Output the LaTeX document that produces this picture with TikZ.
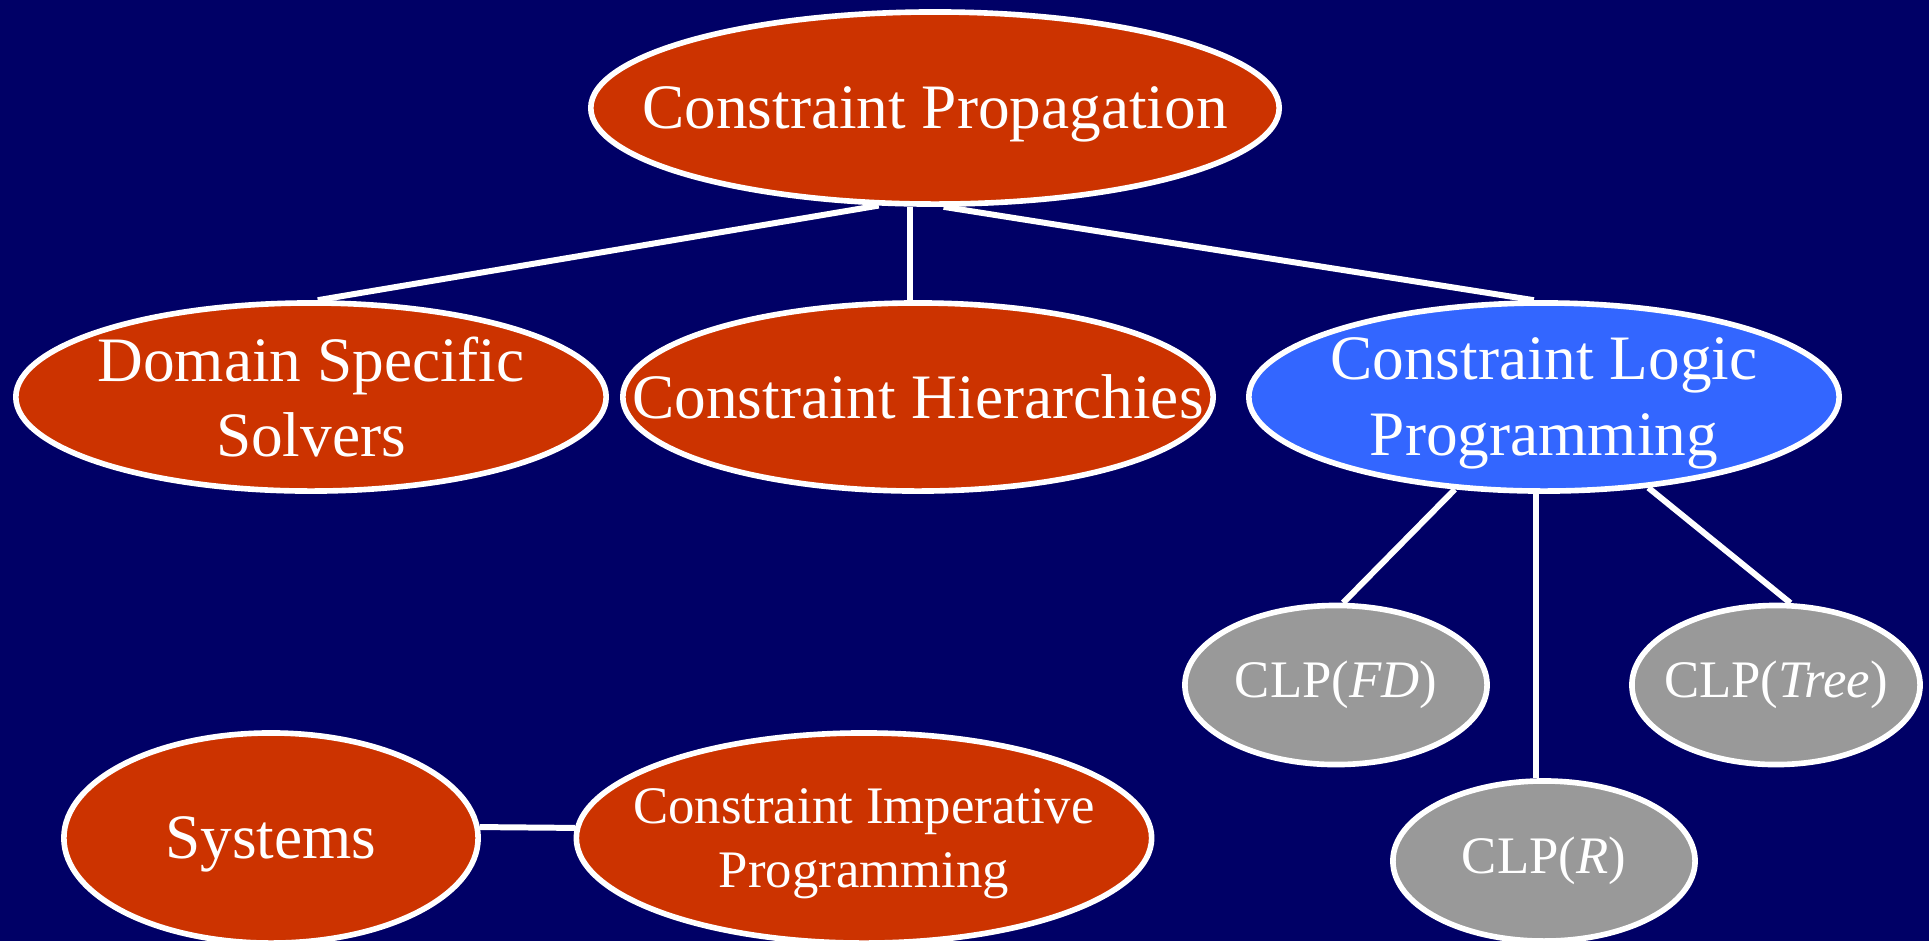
\documentclass[tikz,border=0pt]{standalone}
\usepackage{fontspec}
\setmainfont{Liberation Serif}
\usetikzlibrary{shapes.geometric}
\definecolor{SlideBg}{HTML}{000066}
\definecolor{TopicFill}{HTML}{CC3300}
\definecolor{ClpFill}{HTML}{3366FF}
\definecolor{SubFill}{HTML}{999999}

\begin{document}
\begin{tikzpicture}[x=0.01cm, y=-0.01cm,
            topic/.style={ellipse, draw=white, line width=1.6pt, fill=TopicFill, text=white,
                          inner xsep=-1.8cm, inner ysep=-0.4cm, align=center,
                          minimum width=5.9cm, minimum height=1.88cm,
                          font=\fontsize{18}{21.6}\selectfont},
            clp/.style={topic, fill=ClpFill},
            sub/.style={topic, fill=SubFill, inner xsep=-0.6cm, inner ysep=-0.2cm,
                        minimum width=3.02cm, minimum height=1.59cm,
                        font=\fontsize{15}{18}\selectfont},
            link/.style={draw=white, line width=1.7pt}]

            \path[use as bounding box, fill=SlideBg] (0,0) rectangle (1929,941);

            % raiz e primeiro nivel
            \node[topic, minimum width=6.88cm, minimum height=1.92cm, text depth=0pt] (prop) at (935,108) {Constraint Propagation};
            \node[topic] (dss)  at (311,397) {Domain Specific\\Solvers};
            \node[topic] (hier) at (918,397) {Constraint Hierarchies};
            \node[clp, text depth=0pt] (clpg) at (1544,397) {Constraint Logic\\Programming};

            % instancias de CLP
            \node[sub] (fd)   at (1336,685) {CLP(\textit{FD})};
            \node[sub, minimum width=2.88cm] (tree) at (1776,685) {CLP(\textit{Tree})};
            \node[sub, minimum height=1.6cm] (real) at (1544,861) {CLP(\textit{R})};

            % par isolado em baixo
            \node[topic, minimum width=4.14cm, minimum height=2.1cm, text depth=0pt] (sys) at (271,838) {Systems};
            \node[topic, minimum width=5.75cm, minimum height=2.1cm, text depth=0pt,
                  font=\fontsize{15}{18}\selectfont] (cip) at (864,838) {Constraint Imperative\\Programming};

            % ligacoes
            \draw[link] (prop.240) -- (dss.86);
            \draw[link] (prop.256) -- (prop.256 |- hier.north);
            \draw[link] (prop.275) -- (clpg.96);
            \draw[link] (clpg.226) -- (fd.85);
            \draw[link] (clpg.265) -- (clpg.265 |- real.north);
            \draw[link] (clpg.319) -- (tree.80);
            \draw[link] (sys.3) -- (cip.178);
        \end{tikzpicture}
\end{document}
